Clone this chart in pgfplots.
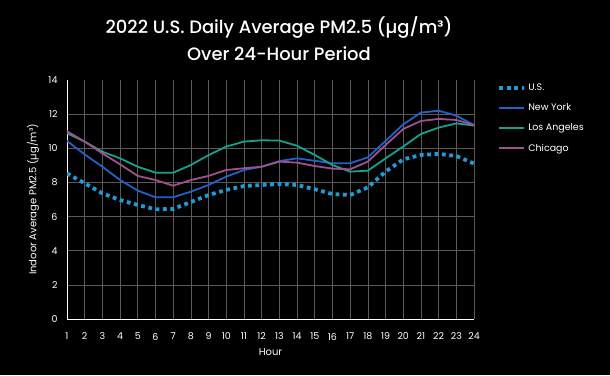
\documentclass[border=0pt]{standalone}
\usepackage{fontspec}
\setmainfont{Poppins}
\newfontfamily\titlefont{Poppins Medium}
\usepackage{pgfplots}
\pgfplotsset{compat=1.18}
\definecolor{usblue}{HTML}{1E9BD7}
\definecolor{nyblue}{HTML}{2062C8}
\definecolor{lagreen}{HTML}{17A08C}
\definecolor{chipurple}{HTML}{A0508E}
\definecolor{gridgray}{HTML}{5A5A5A}
\begin{document}
\begin{tikzpicture}[x=1bp,y=1bp]
\fill[black] (0,0) rectangle (610,375);
\node[white,font=\fontsize{18}{21}\selectfont\titlefont,align=center] at (279,348) {2022 U.S. Daily Average PM2.5 (µg/m³)};
\node[white,font=\fontsize{18}{21}\selectfont\titlefont,align=center] at (279,321) {Over 24-Hour Period};
\begin{axis}[
  at={(67bp,56bp)}, anchor=south west,
  scale only axis, width=407bp, height=239bp,
  xmin=1, xmax=24, ymin=0, ymax=14,
  xtick={1,...,24}, ytick={0,2,...,12},
  extra y ticks={14}, extra tick style={grid=none},
  axis lines*=left,
  axis line style={draw=white, line width=0.9bp},
  major tick length=0pt,
  grid=major,
  major grid style={draw=gridgray, line width=0.6bp},
  /pgf/number format/assume math mode=true,
  ticklabel style={white, font=\fontsize{9.5}{11}\selectfont},
  xticklabel style={yshift=-10.5bp},
  yticklabel style={xshift=-6bp},
  xlabel={Hour}, ylabel={Indoor Average PM2.5 (µg/m³)},
  label style={white, font=\fontsize{10}{12}\selectfont},
  xlabel style={at={(axis description cs:0.5,-0.138)}, anchor=center},
  ylabel style={at={(axis description cs:-0.0835,0.5)}, anchor=center},
  legend style={at={(1.05,1.0)}, anchor=north west, draw=none, fill=black,
    text=white, font=\fontsize{9.5}{11}\selectfont, row sep=7.5bp,
    /tikz/every even column/.append style={column sep=2bp}},
  legend cell align=left,
  legend image code/.code={\draw[#1] (0bp,0bp) -- (25bp,0bp);},
]
\addplot[usblue, line width=3.8bp, dash pattern=on 3.8bp off 3.6bp] coordinates {
(1,8.53)(2,7.95)(3,7.36)(4,6.97)(5,6.68)(6,6.43)(7,6.45)(8,6.85)(9,7.26)(10,7.56)(11,7.79)(12,7.85)
(13,7.91)(14,7.85)(15,7.6)(16,7.32)(17,7.26)(18,7.71)(19,8.63)(20,9.35)(21,9.61)(22,9.67)(23,9.55)(24,9.1)};
\addlegendentry{U.S.}
\addplot[draw=nyblue, line width=1.8bp] coordinates {
(1,10.43)(2,9.64)(3,8.92)(4,8.14)(5,7.52)(6,7.13)(7,7.13)(8,7.46)(9,7.85)(10,8.34)(11,8.73)(12,8.92)
(13,9.25)(14,9.41)(15,9.27)(16,9.12)(17,9.12)(18,9.47)(19,10.43)(20,11.4)(21,12.09)(22,12.2)(23,11.91)(24,11.36)};
\addlegendentry{New York}
\addplot[draw=lagreen, line width=1.8bp] coordinates {
(1,10.88)(2,10.39)(3,9.8)(4,9.41)(5,8.92)(6,8.57)(7,8.57)(8,9.02)(9,9.6)(10,10.1)(11,10.39)(12,10.47)
(13,10.45)(14,10.15)(15,9.61)(16,9.02)(17,8.63)(18,8.69)(19,9.41)(20,10.1)(21,10.84)(22,11.21)(23,11.46)(24,11.33)};
\addlegendentry{Los Angeles}
\addplot[draw=chipurple, line width=1.8bp] coordinates {
(1,11.0)(2,10.39)(3,9.7)(4,9.06)(5,8.38)(6,8.14)(7,7.81)(8,8.14)(9,8.38)(10,8.73)(11,8.83)(12,8.92)
(13,9.22)(14,9.16)(15,8.96)(16,8.81)(17,8.77)(18,9.22)(19,10.19)(20,11.13)(21,11.6)(22,11.72)(23,11.66)(24,11.36)};
\addlegendentry{Chicago}
\end{axis}
\pgfresetboundingbox
\path (0,0) rectangle (610,375);
\end{tikzpicture}
\end{document}
